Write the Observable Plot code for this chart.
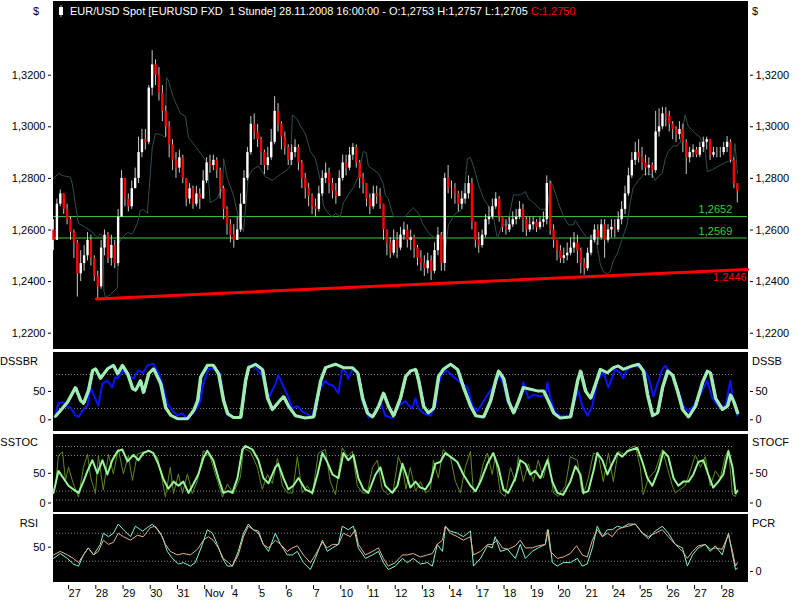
<!DOCTYPE html>
<html><head><meta charset="utf-8">
<script src="https://cdn.jsdelivr.net/npm/d3@7"></script>
<script src="https://cdn.jsdelivr.net/npm/@observablehq/plot@0.6"></script>
<style>
body{margin:0;background:#fff;}
#chart{position:relative;width:800px;height:600px;background:#fff;overflow:hidden;}
#chart svg{position:absolute;left:0;}
</style></head><body><div id="chart"></div>
<script>
// ---------------- DATA ----------------
const dayLabels = ["27","28","29","30","31","Nov","4","5","6","7","10","11","12","13","14","17","18","19","20","21","24","25","26","27","28"];
const priceTicks = [1.22, 1.24, 1.26, 1.28, 1.30, 1.32];
const barStart = -0.5;      // trading-day position of first 3-hour bar
const barStep = 0.125;      // 3 hours in trading days
const firstOpen = 1.2600;
const closes = [
 1.2560,1.2700,1.2740,1.2680,
 1.2640,1.2590,1.2550,1.2430,1.2470,1.2500,1.2560,1.2490,
 1.2420,1.2380,1.2530,1.2580,1.2490,1.2540,1.2470,1.2650,
 1.2800,1.2720,1.2690,1.2760,1.2800,1.2900,1.2950,1.2940,
 1.3150,1.3240,1.3200,1.3130,1.3060,1.3000,1.2930,1.2870,
 1.2840,1.2880,1.2800,1.2720,1.2760,1.2700,1.2740,1.2720,
 1.2790,1.2860,1.2850,1.2870,1.2830,1.2760,1.2680,1.2620,
 1.2580,1.2560,1.2600,1.2700,1.2800,1.2900,1.3010,1.2980,
 1.2950,1.2900,1.2850,1.2880,1.2940,1.3060,1.3010,1.2960,
 1.2920,1.2870,1.2900,1.2920,1.2860,1.2800,1.2760,1.2730,
 1.2690,1.2680,1.2740,1.2800,1.2820,1.2780,1.2750,1.2730,
 1.2800,1.2860,1.2840,1.2890,1.2920,1.2860,1.2800,1.2780,
 1.2720,1.2690,1.2740,1.2730,1.2700,1.2600,1.2550,1.2510,
 1.2560,1.2530,1.2580,1.2600,1.2560,1.2570,1.2530,1.2490,
 1.2470,1.2450,1.2480,1.2440,1.2520,1.2580,1.2470,1.2800,
 1.2760,1.2760,1.2740,1.2700,1.2720,1.2740,1.2780,1.2630,
 1.2560,1.2540,1.2580,1.2640,1.2650,1.2690,1.2720,1.2650,
 1.2610,1.2600,1.2620,1.2640,1.2650,1.2680,1.2640,1.2600,
 1.2620,1.2630,1.2610,1.2630,1.2640,1.2780,1.2600,1.2560,
 1.2520,1.2490,1.2500,1.2510,1.2530,1.2550,1.2520,1.2470,
 1.2450,1.2510,1.2560,1.2600,1.2570,1.2620,1.2560,1.2600,
 1.2610,1.2600,1.2640,1.2680,1.2740,1.2810,1.2870,1.2900,
 1.2880,1.2860,1.2840,1.2850,1.2830,1.2980,1.3000,1.3050,
 1.3040,1.3010,1.2990,1.2970,1.2990,1.2940,1.2880,1.2900,
 1.2910,1.2890,1.2920,1.2940,1.2950,1.2890,1.2900,1.2900,
 1.2900,1.2920,1.2940,1.2870,1.2780,1.2750];
const highs = [
 1.2640,1.2720,1.2755,1.2740,
 1.2700,1.2650,1.2600,1.2560,1.2520,1.2540,1.2590,1.2580,
 1.2500,1.2440,1.2560,1.2600,1.2590,1.2580,1.2560,1.2680,
 1.2830,1.2800,1.2740,1.2790,1.2840,1.2960,1.2990,1.2990,
 1.3160,1.3295,1.3260,1.3230,1.3160,1.3080,1.3020,1.2950,
 1.2900,1.2910,1.2890,1.2800,1.2780,1.2770,1.2770,1.2760,
 1.2830,1.2880,1.2890,1.2890,1.2880,1.2840,1.2770,1.2690,
 1.2640,1.2620,1.2650,1.2740,1.2830,1.2920,1.3040,1.3050,
 1.3010,1.2960,1.2910,1.2920,1.2990,1.3117,1.3090,1.3020,
 1.2980,1.2930,1.2930,1.2950,1.2930,1.2870,1.2820,1.2780,
 1.2740,1.2720,1.2770,1.2830,1.2860,1.2840,1.2800,1.2780,
 1.2830,1.2890,1.2890,1.2920,1.2935,1.2930,1.2870,1.2820,
 1.2780,1.2740,1.2770,1.2770,1.2760,1.2700,1.2600,1.2570,
 1.2600,1.2590,1.2610,1.2630,1.2620,1.2600,1.2580,1.2540,
 1.2520,1.2500,1.2510,1.2500,1.2550,1.2610,1.2590,1.2820,
 1.2850,1.2790,1.2780,1.2750,1.2750,1.2780,1.2810,1.2800,
 1.2630,1.2590,1.2600,1.2660,1.2690,1.2720,1.2745,1.2730,
 1.2650,1.2640,1.2650,1.2670,1.2680,1.2710,1.2700,1.2650,
 1.2650,1.2650,1.2640,1.2650,1.2670,1.2810,1.2790,1.2620,
 1.2560,1.2540,1.2530,1.2550,1.2570,1.2590,1.2580,1.2530,
 1.2490,1.2530,1.2580,1.2620,1.2620,1.2640,1.2640,1.2620,
 1.2640,1.2640,1.2670,1.2710,1.2770,1.2840,1.2900,1.2940,
 1.2950,1.2920,1.2890,1.2880,1.2860,1.3060,1.3070,1.3075,
 1.3075,1.3060,1.3020,1.3000,1.3020,1.3010,1.2950,1.2920,
 1.2930,1.2920,1.2940,1.2960,1.2960,1.2950,1.2920,1.2920,
 1.2920,1.2940,1.2962,1.2950,1.2880,1.2780];
const lows = [
 1.2520,1.2560,1.2690,1.2660,
 1.2620,1.2560,1.2490,1.2340,1.2400,1.2440,1.2480,1.2460,
 1.2400,1.2333,1.2370,1.2500,1.2470,1.2460,1.2450,1.2460,
 1.2760,1.2690,1.2670,1.2680,1.2760,1.2780,1.2880,1.2910,
 1.2930,1.3120,1.3160,1.3100,1.3020,1.2960,1.2880,1.2830,
 1.2800,1.2820,1.2780,1.2690,1.2700,1.2680,1.2690,1.2680,
 1.2720,1.2780,1.2820,1.2830,1.2800,1.2720,1.2640,1.2580,
 1.2550,1.2530,1.2560,1.2590,1.2700,1.2790,1.2890,1.2950,
 1.2920,1.2850,1.2815,1.2830,1.2870,1.2930,1.2980,1.2910,
 1.2890,1.2850,1.2850,1.2880,1.2830,1.2760,1.2720,1.2690,
 1.2660,1.2650,1.2670,1.2730,1.2780,1.2740,1.2720,1.2700,
 1.2730,1.2790,1.2810,1.2830,1.2870,1.2840,1.2760,1.2740,
 1.2690,1.2660,1.2680,1.2700,1.2680,1.2560,1.2500,1.2490,
 1.2500,1.2490,1.2520,1.2560,1.2530,1.2520,1.2490,1.2460,
 1.2440,1.2420,1.2430,1.2404,1.2430,1.2500,1.2440,1.2440,
 1.2740,1.2720,1.2700,1.2670,1.2680,1.2700,1.2720,1.2600,
 1.2530,1.2510,1.2530,1.2570,1.2620,1.2640,1.2680,1.2630,
 1.2590,1.2580,1.2590,1.2610,1.2620,1.2640,1.2590,1.2575,
 1.2590,1.2600,1.2590,1.2600,1.2610,1.2620,1.2580,1.2530,
 1.2480,1.2470,1.2470,1.2480,1.2500,1.2510,1.2470,1.2430,
 1.2425,1.2440,1.2500,1.2550,1.2540,1.2560,1.2490,1.2550,
 1.2570,1.2570,1.2590,1.2620,1.2660,1.2730,1.2800,1.2850,
 1.2860,1.2830,1.2810,1.2810,1.2800,1.2820,1.2960,1.2990,
 1.3000,1.2980,1.2950,1.2940,1.2950,1.2900,1.2815,1.2860,
 1.2880,1.2880,1.2880,1.2900,1.2910,1.2870,1.2880,1.2880,
 1.2880,1.2890,1.2900,1.2860,1.2760,1.2705];
const levels = [1.2652, 1.2569];
const support = [[1.08, 1.2333], [25, 1.2447]];
const supportLabel = 1.2446;
// [trading day, price]
const lagLine = [[-0.50,1.2800],[-0.32,1.2819],[-0.14,1.2810],[0.12,1.2805],[0.19,1.2780],[0.30,1.2703],[0.42,1.2625],[0.60,1.2615],[0.86,1.2598],[1.11,1.2571],[1.22,1.2585],[1.33,1.2571],[1.35,1.2365],[1.41,1.2338],[1.59,1.2350],[1.85,1.2377],[1.88,1.2547],[2.03,1.2571],[2.22,1.2590],[2.40,1.2585],[2.58,1.2625],[2.69,1.2675],[2.80,1.2680],[2.95,1.2664],[2.99,1.2726],[3.13,1.2919],[3.24,1.2974],[3.43,1.2970],[3.61,1.2958],[3.65,1.3191],[3.72,1.3180],[3.90,1.3114],[4.16,1.3052],[4.35,1.3040],[4.46,1.2958],[4.64,1.2935],[4.90,1.2897],[5.15,1.2862],[5.26,1.2706],[5.49,1.2720],[5.71,1.2760],[5.75,1.2877],[5.89,1.2800],[6.11,1.2736],[6.29,1.2652],[6.48,1.2594],[6.55,1.2680],[6.66,1.2807],[6.81,1.2834],[7.03,1.2848],[7.29,1.2807],[7.54,1.2792],[7.76,1.2810],[8.09,1.2834],[8.20,1.2848],[8.28,1.3046],[8.46,1.3030],[8.57,1.3003],[8.75,1.2974],[8.94,1.2904],[9.12,1.2877],[9.31,1.2791],[9.42,1.2693],[9.60,1.2664],[9.75,1.2652],[9.86,1.2664],[10.04,1.2652],[10.15,1.2706],[10.33,1.2736],[10.52,1.2765],[10.70,1.2807],[10.88,1.2904],[10.99,1.2900],[11.07,1.2848],[11.25,1.2834],[11.44,1.2819],[11.62,1.2778],[11.69,1.2736],[11.80,1.2722],[11.99,1.2652],[12.17,1.2652],[12.43,1.2652],[12.61,1.2675],[12.72,1.2687],[12.91,1.2664],[13.09,1.2620],[13.35,1.2580],[13.60,1.2567],[13.71,1.2580],[13.82,1.2594],[13.90,1.2524],[14.01,1.2620],[14.27,1.2664],[14.52,1.2680],[14.63,1.2791],[14.71,1.2877],[14.82,1.2880],[14.93,1.2848],[15.11,1.2778],[15.30,1.2722],[15.48,1.2693],[15.66,1.2652],[15.81,1.2567],[15.99,1.2620],[16.18,1.2620],[16.40,1.2736],[16.65,1.2736],[16.84,1.2749],[16.95,1.2722],[17.13,1.2706],[17.39,1.2680],[17.65,1.2680],[17.76,1.2791],[17.87,1.2765],[18.05,1.2706],[18.24,1.2652],[18.42,1.2620],[18.60,1.2620],[18.68,1.2637],[18.93,1.2594],[19.12,1.2567],[19.34,1.2580],[19.48,1.2538],[19.59,1.2468],[19.70,1.2439],[19.85,1.2430],[19.96,1.2439],[20.07,1.2482],[20.22,1.2510],[20.40,1.2567],[20.58,1.2623],[20.69,1.2706],[20.80,1.2765],[20.99,1.2792],[21.17,1.2813],[21.32,1.2819],[21.51,1.2813],[21.61,1.2792],[21.72,1.2807],[21.87,1.2820],[21.98,1.2877],[22.09,1.2904],[22.27,1.2926],[22.42,1.2926],[22.53,1.2940],[22.71,1.3046],[22.82,1.3003],[23.08,1.2974],[23.26,1.2960],[23.45,1.2904],[23.52,1.2827],[23.71,1.2834],[23.93,1.2848],[24.19,1.2862],[24.37,1.2869],[24.48,1.2869],[24.54,1.2935],[24.63,1.2820]];

const dssbMain = [[-0.43,8],[-0.32,29],[-0.14,31],[0.01,22],[0.12,22],[0.30,8],[0.42,5],[0.56,16],[0.75,25],[0.86,57],[1.04,37],[1.15,25],[1.30,64],[1.48,69],[1.66,57],[1.77,75],[1.85,73],[2.07,87],[2.25,78],[2.44,73],[2.62,87],[2.80,83],[2.95,96],[3.17,99],[3.43,75],[3.68,29],[3.87,16],[4.05,8],[4.24,11],[4.42,2],[4.60,11],[4.79,22],[4.90,34],[5.01,64],[5.19,90],[5.45,90],[5.63,81],[5.74,40],[5.89,8],[6.11,5],[6.37,5],[6.55,63],[6.66,95],[6.92,92],[7.17,79],[7.40,38],[7.65,63],[7.76,79],[7.91,63],[8.09,44],[8.28,20],[8.46,24],[8.64,15],[9.01,5],[9.23,51],[9.49,69],[9.60,63],[9.78,60],[9.97,47],[10.11,89],[10.23,86],[10.33,72],[10.48,89],[10.67,83],[10.85,33],[11.07,5],[11.33,12],[11.51,33],[11.69,7],[11.95,3],[12.17,24],[12.43,33],[12.50,28],[12.69,20],[12.80,38],[12.91,20],[13.09,12],[13.35,7],[13.53,24],[13.64,63],[13.79,83],[13.97,86],[14.20,76],[14.38,69],[14.71,57],[14.90,24],[15.08,15],[15.37,38],[15.48,47],[15.66,57],[15.85,79],[16.03,63],[16.21,28],[16.47,18],[16.65,38],[16.76,66],[16.95,38],[17.13,44],[17.39,41],[17.57,44],[17.65,66],[17.76,38],[17.94,12],[18.12,7],[18.49,7],[18.68,38],[18.79,51],[18.93,24],[19.12,7],[19.30,24],[19.48,69],[19.71,83],[19.89,57],[20.14,89],[20.32,83],[20.43,73],[20.58,89],[20.80,95],[21.13,92],[21.36,76],[21.54,41],[21.69,63],[21.87,89],[21.98,95],[22.17,83],[22.35,66],[22.64,24],[22.83,15],[23.01,24],[23.26,44],[23.52,69],[23.71,38],[23.93,24],[24.19,24],[24.37,69],[24.48,33],[24.63,7]];
const dssbSignal = [[-0.43,6],[0.01,31],[0.30,57],[0.49,34],[0.60,29],[0.78,52],[0.93,87],[1.04,90],[1.22,73],[1.48,90],[1.70,96],[1.85,81],[2.03,96],[2.22,81],[2.40,55],[2.51,52],[2.69,69],[2.80,48],[2.99,81],[3.17,90],[3.43,64],[3.61,22],[3.80,8],[4.05,2],[4.42,2],[4.64,16],[4.79,34],[4.90,75],[5.15,96],[5.37,96],[5.56,81],[5.74,34],[5.89,11],[6.11,4],[6.37,4],[6.55,69],[6.66,92],[6.92,98],[7.17,89],[7.36,38],[7.54,18],[7.76,31],[7.95,41],[8.13,24],[8.39,7],[8.75,3],[9.05,5],[9.31,69],[9.49,92],[9.86,98],[10.15,92],[10.48,92],[10.67,83],[10.85,38],[11.03,12],[11.22,5],[11.44,24],[11.62,47],[11.80,24],[11.99,7],[12.24,38],[12.43,76],[12.61,86],[12.80,89],[12.91,69],[13.09,24],[13.27,12],[13.46,20],[13.64,76],[13.82,89],[14.09,98],[14.34,89],[14.56,57],[14.82,24],[15.01,7],[15.30,5],[15.55,33],[15.74,69],[15.85,86],[16.03,73],[16.21,33],[16.40,12],[16.58,33],[16.76,57],[17.02,54],[17.28,51],[17.50,51],[17.68,33],[17.87,12],[18.12,3],[18.49,5],[18.75,69],[18.86,86],[19.04,51],[19.23,38],[19.41,63],[19.59,89],[19.85,83],[20.07,92],[20.25,95],[20.43,89],[20.76,95],[20.99,98],[21.17,86],[21.32,44],[21.51,7],[21.69,12],[21.87,57],[22.06,86],[22.24,79],[22.42,51],[22.61,18],[22.83,5],[23.08,24],[23.34,66],[23.52,86],[23.63,83],[23.82,38],[24.08,18],[24.26,24],[24.37,44],[24.48,33],[24.63,12]];

const stocFast = [[-0.43,27],[-0.32,80],[-0.17,86],[-0.06,38],[0.05,60],[0.23,32],[0.42,10],[0.60,60],[0.75,82],[0.86,44],[1.04,16],[1.15,80],[1.33,22],[1.52,82],[1.70,49],[1.88,91],[2.07,49],[2.25,80],[2.40,38],[2.58,82],[2.80,86],[3.06,88],[3.32,77],[3.50,38],[3.61,10],[3.79,60],[3.91,16],[4.09,49],[4.24,16],[4.42,49],[4.60,16],[4.79,38],[5.01,88],[5.26,77],[5.52,38],[5.71,10],[5.89,32],[6.11,16],[6.37,44],[6.48,93],[6.66,88],[6.73,87],[6.99,60],[7.17,23],[7.36,48],[7.54,33],[7.73,75],[7.91,29],[8.09,17],[8.28,17],[8.46,78],[8.64,17],[8.83,29],[9.01,14],[9.23,84],[9.49,90],[9.67,36],[9.86,14],[10.11,93],[10.30,78],[10.48,87],[10.66,29],[10.85,17],[11.03,17],[11.22,60],[11.40,72],[11.58,23],[11.80,14],[11.99,23],[12.17,78],[12.32,60],[12.45,23],[12.61,60],[12.80,20],[12.98,36],[13.17,17],[13.35,23],[13.46,72],[13.64,42],[13.82,90],[14.08,78],[14.27,36],[14.45,17],[14.63,60],[14.82,87],[14.93,17],[15.11,29],[15.29,66],[15.44,84],[15.62,48],[15.73,78],[15.92,17],[16.10,11],[16.29,60],[16.47,36],[16.58,78],[16.76,36],[16.95,66],[17.13,36],[17.31,72],[17.50,42],[17.68,78],[17.87,17],[18.05,11],[18.31,29],[18.49,78],[18.75,72],[18.90,23],[18.97,14],[19.15,42],[19.34,84],[19.52,81],[19.70,36],[19.89,84],[20.07,36],[20.25,87],[20.51,81],[20.69,93],[20.88,96],[21.06,60],[21.17,14],[21.36,42],[21.61,54],[21.87,90],[22.05,60],[22.24,29],[22.35,17],[22.53,23],[22.71,29],[22.90,54],[23.08,81],[23.27,60],[23.45,78],[23.63,29],[23.82,54],[24.00,42],[24.18,78],[24.30,90],[24.45,14],[24.56,11],[24.63,23]];
const stocSlow = [[-0.50,17],[-0.32,54],[-0.14,42],[0.05,29],[0.23,23],[0.42,17],[0.60,36],[0.75,54],[0.93,72],[1.11,50],[1.30,72],[1.48,48],[1.66,72],[1.85,87],[2.03,90],[2.22,70],[2.44,81],[2.62,72],[2.80,84],[2.99,88],[3.17,84],[3.35,66],[3.54,40],[3.72,24],[3.91,36],[4.09,29],[4.27,36],[4.46,17],[4.64,32],[4.82,48],[5.01,76],[5.15,88],[5.37,72],[5.56,42],[5.74,17],[5.93,20],[6.07,17],[6.26,42],[6.44,90],[6.55,96],[6.81,90],[7.03,72],[7.21,42],[7.40,33],[7.65,60],[7.76,66],[7.95,42],[8.13,23],[8.31,29],[8.50,42],[8.75,23],[9.01,17],[9.20,48],[9.38,84],[9.56,69],[9.75,48],[9.97,42],[10.15,84],[10.33,72],[10.52,81],[10.70,42],[10.89,23],[11.07,17],[11.33,48],[11.51,60],[11.69,29],[11.95,17],[12.14,29],[12.32,66],[12.50,42],[12.61,26],[12.80,36],[12.98,26],[13.17,23],[13.35,36],[13.53,66],[13.71,69],[13.90,84],[14.08,78],[14.34,69],[14.56,48],[14.82,29],[15.01,20],[15.19,36],[15.44,66],[15.66,84],[15.85,60],[16.03,23],[16.21,17],[16.47,42],[16.65,72],[16.84,66],[17.02,48],[17.20,54],[17.39,42],[17.65,72],[17.83,36],[18.01,17],[18.23,14],[18.49,36],[18.68,62],[18.86,48],[18.97,17],[19.15,20],[19.34,54],[19.48,84],[19.67,72],[19.85,48],[20.03,66],[20.22,84],[20.40,78],[20.58,87],[20.77,90],[20.95,93],[21.14,69],[21.32,42],[21.50,29],[21.72,54],[21.91,87],[22.09,78],[22.28,42],[22.46,29],[22.64,36],[22.83,36],[23.01,48],[23.19,69],[23.38,72],[23.56,48],[23.74,26],[23.93,36],[24.11,48],[24.30,87],[24.45,60],[24.56,17],[24.63,20]];

const rsiLine = [[-0.50,39],[-0.25,44],[0.01,39],[0.23,34],[0.42,28],[0.60,39],[0.78,49],[0.97,39],[1.15,44],[1.33,60],[1.52,54],[1.70,57],[1.88,70],[2.07,65],[2.33,60],[2.58,67],[2.80,65],[3.06,78],[3.24,80],[3.43,70],[3.61,54],[3.79,44],[4.05,39],[4.27,41],[4.53,39],[4.79,47],[5.01,60],[5.19,65],[5.37,60],[5.56,49],[5.74,34],[5.93,28],[6.07,23],[6.29,39],[6.48,65],[6.66,80],[6.84,75],[7.03,70],[7.21,54],[7.40,49],[7.65,60],[7.84,54],[8.09,44],[8.28,49],[8.46,52],[8.68,39],[8.94,28],[9.12,39],[9.38,57],[9.56,49],[9.75,54],[9.97,54],[10.15,70],[10.41,65],[10.59,75],[10.70,54],[10.96,39],[11.22,44],[11.44,49],[11.62,34],[11.80,23],[12.06,28],[12.32,39],[12.50,39],[12.72,41],[12.98,36],[13.24,39],[13.42,41],[13.60,54],[13.79,60],[13.90,80],[14.08,70],[14.34,65],[14.56,60],[14.82,65],[14.93,39],[15.19,44],[15.44,54],[15.62,54],[15.81,60],[15.99,49],[16.21,47],[16.47,52],[16.65,60],[16.84,49],[17.09,49],[17.31,52],[17.57,54],[17.65,75],[17.76,44],[18.01,34],[18.23,36],[18.49,41],[18.72,52],[18.93,39],[19.11,36],[19.30,60],[19.48,75],[19.67,65],[19.85,70],[20.03,65],[20.22,75],[20.40,78],[20.62,80],[20.88,83],[21.14,70],[21.36,65],[21.61,70],[21.87,75],[22.09,65],[22.35,54],[22.61,44],[22.79,34],[22.98,44],[23.19,52],[23.45,54],[23.63,47],[23.82,49],[24.07,47],[24.30,68],[24.45,44],[24.56,23],[24.63,28]];
const pcrLine = [[-0.50,34],[-0.25,41],[0.01,34],[0.23,26],[0.42,23],[0.60,39],[0.78,49],[0.97,39],[1.22,54],[1.33,70],[1.52,65],[1.70,70],[1.88,83],[2.07,75],[2.33,65],[2.51,80],[2.77,73],[2.95,78],[3.13,83],[3.32,75],[3.50,65],[3.68,44],[3.87,34],[4.09,26],[4.27,28],[4.53,23],[4.71,28],[4.97,54],[5.15,75],[5.34,70],[5.52,54],[5.71,34],[5.89,23],[6.07,23],[6.29,44],[6.48,70],[6.66,83],[6.84,75],[7.03,73],[7.21,54],[7.40,44],[7.65,70],[7.84,54],[8.09,39],[8.28,39],[8.46,44],[8.68,28],[8.94,18],[9.12,34],[9.38,60],[9.56,44],[9.75,49],[9.97,54],[10.11,80],[10.33,75],[10.52,80],[10.70,49],[10.96,34],[11.22,39],[11.44,44],[11.62,28],[11.80,18],[12.06,23],[12.32,34],[12.50,28],[12.72,34],[12.98,26],[13.24,28],[13.42,23],[13.60,54],[13.79,44],[13.90,80],[14.08,73],[14.34,70],[14.56,65],[14.82,73],[14.93,23],[15.19,34],[15.44,52],[15.62,49],[15.73,65],[15.92,44],[16.18,47],[16.47,34],[16.65,54],[16.84,34],[17.09,44],[17.31,49],[17.57,54],[17.68,75],[17.83,28],[18.01,23],[18.23,28],[18.49,28],[18.75,34],[18.93,23],[19.11,26],[19.30,49],[19.48,80],[19.67,65],[19.85,75],[20.03,75],[20.22,80],[20.40,78],[20.62,83],[20.88,83],[21.14,70],[21.36,62],[21.61,73],[21.87,80],[22.09,70],[22.35,54],[22.61,49],[22.79,23],[22.98,39],[23.19,49],[23.45,54],[23.63,44],[23.82,52],[24.07,39],[24.30,70],[24.45,39],[24.56,18],[24.63,20]];

const dssbLevels = [20, 80];
const stocLevels = [5, 20, 80, 95];
const rsiLevels = [30, 70];
const subTicks = [0, 50];
const rsiTicks = [50];
const pcrZeroAt = 15.3;   // PCR "0" tick as placed on the RSI panel
const dotSpan = [-0.39, 24.48];

// ---------------- CHART ----------------
const FONT = "'Liberation Sans', Arial, sans-serif";
const xDomain = [-0.5, 25];
const fmtPrice = d => d.toFixed(4).replace(".", ",");
const chart = document.getElementById("chart");

const bars = closes.map((c, i) => {
  const o = i === 0 ? firstOpen : closes[i - 1];
  return {t: barStart + i * barStep, o, c, h: Math.max(highs[i], o, c), l: Math.min(lows[i], o, c), up: c >= o};
});

const baseStyle = {background: "transparent", fontFamily: FONT, fontSize: "11px", color: "black", overflow: "visible"};
function place(svg, top) { svg.style.position = "absolute"; svg.style.top = top + "px"; svg.style.left = "0px"; chart.appendChild(svg); }
const yAxes = (ticks, fmt) => [
  Plot.axisY(ticks, {anchor: "left", tickSize: 3, tickPadding: 3, dx: -2, tickFormat: fmt, fill: "black", stroke: "black"}),
  Plot.axisY(ticks, {anchor: "right", tickSize: 3, tickPadding: 3, dx: 2, tickFormat: fmt, fill: "black", stroke: "black"})
];
const dotted = lv => Plot.ruleY(lv, {x1: dotSpan[0], x2: dotSpan[1], stroke: "#8c8c8c", strokeDasharray: "1,2"});
const P = d => d[0], V = d => d[1];

// Main price panel
const main = Plot.plot({
  width: 800, height: 349, marginTop: 1, marginBottom: 1, marginLeft: 53, marginRight: 53,
  style: baseStyle,
  x: {domain: xDomain, axis: null},
  y: {domain: [1.21407, 1.34857], axis: null},
  color: {type: "identity"},
  marks: [
    Plot.frame({fill: "black", stroke: "black"}),
    ...yAxes(priceTicks, fmtPrice),
    Plot.ruleY(levels, {stroke: "#3ec83e", strokeWidth: 1}),
    Plot.line(lagLine, {x: P, y: V, stroke: "#2f4f4f", strokeWidth: 1}),
    Plot.ruleX(bars, {x: "t", y1: "l", y2: "h", stroke: "#c8c8c8", strokeWidth: 1}),
    Plot.ruleX(bars, {x: "t", y1: "o", y2: "c", stroke: d => d.up ? "#ffffff" : "#ff0000", strokeWidth: 2.4}),
    Plot.line(support, {x: P, y: V, stroke: "#ff0000", strokeWidth: 3}),
    Plot.text(levels, {x: 24.44, y: d => d, text: fmtPrice, textAnchor: "end", dy: -7, fill: "#3ec83e"}),
    Plot.text([supportLabel], {x: 24.97, y: d => d, text: fmtPrice, textAnchor: "end", dy: 8, fill: "#ff0000"})
  ]
});
place(main, 0);

// DSSBR panel
const dssb = Plot.plot({
  width: 800, height: 78, marginTop: 0, marginBottom: 0, marginLeft: 53, marginRight: 53,
  style: baseStyle,
  x: {domain: xDomain, axis: null},
  y: {domain: [-18.9, 118.7], axis: null},
  marks: [
    Plot.frame({fill: "black", stroke: "black"}),
    ...yAxes(subTicks, d => String(d)),
    dotted(dssbLevels),
    Plot.line(dssbMain, {x: P, y: V, stroke: "#0a14ff", strokeWidth: 2}),
    Plot.line(dssbSignal, {x: P, y: V, stroke: "#98f0a0", strokeWidth: 3}),
    Plot.line(dssbSignal, {x: P, y: V, stroke: "#b4e4f0", strokeWidth: 1, dx: 1.5})
  ]
});
place(dssb, 352);

// SSTOC panel
const stoc = Plot.plot({
  width: 800, height: 77, marginTop: 0, marginBottom: 0, marginLeft: 53, marginRight: 53,
  style: baseStyle,
  x: {domain: xDomain, axis: null},
  y: {domain: [-14.3, 115.3], axis: null},
  marks: [
    Plot.frame({fill: "black", stroke: "black"}),
    ...yAxes(subTicks, d => String(d)),
    dotted(stocLevels),
    Plot.line(stocFast, {x: P, y: V, stroke: "#5f8a1e", strokeWidth: 1}),
    Plot.line(stocSlow, {x: P, y: V, stroke: "#98f598", strokeWidth: 2})
  ]
});
place(stoc, 434);

// RSI / PCR panel with date axis
const rsiP = Plot.plot({
  width: 800, height: 86, marginTop: 0, marginBottom: 19, marginLeft: 53, marginRight: 53,
  style: baseStyle,
  x: {domain: xDomain, axis: null},
  y: {domain: [1.0, 96.7], axis: null},
  marks: [
    Plot.frame({fill: "black", stroke: "black"}),
    Plot.axisY(rsiTicks, {anchor: "left", tickSize: 3, tickPadding: 3, dx: -2, fill: "black", stroke: "black"}),
    Plot.axisY([pcrZeroAt], {anchor: "right", tickSize: 3, tickPadding: 3, dx: 2, tickFormat: () => "0", fill: "black", stroke: "black"}),
    Plot.axisX(d3.range(dayLabels.length), {anchor: "bottom", tickSize: 4, tickPadding: 0, dy: 4, dx: 1.5, textAnchor: "start", tickFormat: i => dayLabels[i], fill: "black", stroke: "black"}),
    dotted(rsiLevels),
    Plot.line(pcrLine, {x: P, y: V, stroke: "#7ff5d8", strokeWidth: 1}),
    Plot.line(rsiLine, {x: P, y: V, stroke: "#e2b48c", strokeWidth: 1})
  ]
});
place(rsiP, 514);

// Overlay text (titles, panel labels)
const ov = d3.select(chart).append("svg")
  .attr("width", 800).attr("height", 600)
  .style("position", "absolute").style("left", "0px").style("top", "0px")
  .style("font-family", FONT).style("font-size", "11px").style("pointer-events", "none");
ov.append("rect").attr("x", 60.5).attr("y", 5).attr("width", 1).attr("height", 12).attr("fill", "#b0b0b0");
ov.append("rect").attr("x", 59).attr("y", 7).attr("width", 4).attr("height", 8).attr("fill", "#ffffff");
const title = ov.append("text").attr("x", 70).attr("y", 15).style("white-space", "pre");
title.append("tspan").attr("fill", "#ffffff").text("EUR/USD Spot [EURUSD FXD  1 Stunde] 28.11.2008 16:00:00 - O:1,2753 H:1,2757 L:1,2705 ");
title.append("tspan").attr("fill", "#ff0000").text("C:1,2750");
const lab = (x, y, t, anchor) => ov.append("text").attr("x", x).attr("y", y).attr("text-anchor", anchor).attr("fill", "#000").text(t);
lab(33, 15, "$", "start");
lab(752, 15, "$", "start");
lab(38, 365, "DSSBR", "end");
lab(752, 365, "DSSB", "start");
lab(38, 446, "SSTOC", "end");
lab(752, 446, "STOCF", "start");
lab(38, 527, "RSI", "end");
lab(752, 527, "PCR", "start");
</script>
</body></html>
